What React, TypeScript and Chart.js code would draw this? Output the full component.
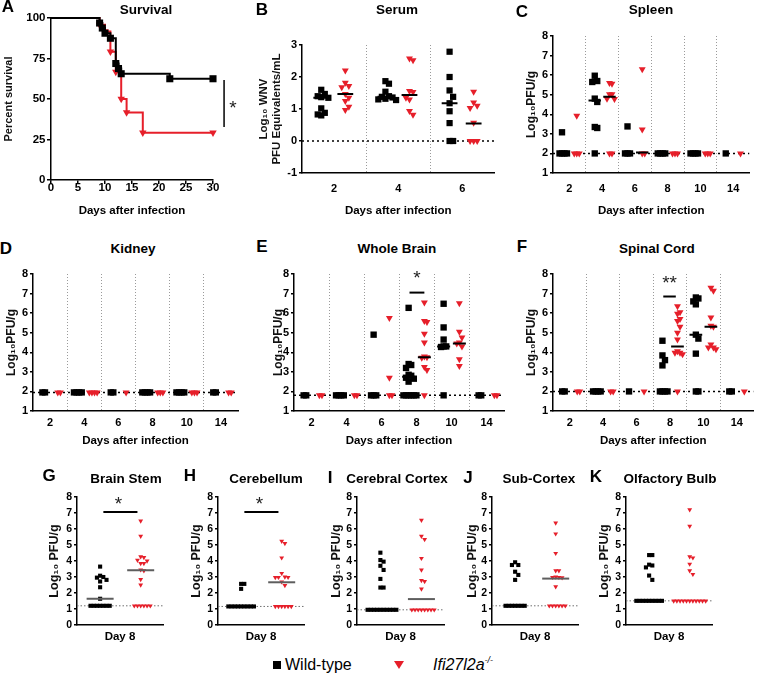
import React, { useEffect, useRef } from 'react';
import { Chart, registerables } from 'chart.js';

Chart.register(...registerables);

const FONT = '"Liberation Sans", Arial, Helvetica, sans-serif';
const RED = '#e61f2a';
const INK = '#000000';

// ================= DATA =================
// A – survival (Kaplan–Meier)
const survDaysWT = [0, 9, 9.5, 10, 11, 12, 12.5, 13, 22, 30];
const survPctWT = [100, 96.9, 93.8, 90.6, 87.5, 71.9, 68.8, 65.6, 62.5, 62.5];
const survDaysKO = [0, 9, 10, 11, 12, 13, 14, 17, 30];
const survPctKO = [100, 95.8, 91.7, 79.2, 66.7, 50, 41.7, 29.2, 29.2];
const survXTicks = [0, 5, 10, 15, 20, 25, 30];
const survYTicks = [0, 25, 50, 75, 100];

const dayLabels = ['2', '4', '6', '8', '10', '14'];
const serumDayLabels = ['2', '4', '6'];
const serumYTicks = [-1, 0, 1, 2, 3];
const logTicks = [1, 2, 3, 4, 5, 6, 7, 8];
const day8Ticks = [0, 1, 2, 3, 4, 5, 6, 7, 8];

// B – serum
const serumWT = [
  [1.6, 1.47, 1.4, 1.37, 1.35, 1.02, 0.88, 0.83, 0.8],
  [1.87, 1.79, 1.54, 1.4, 1.38, 1.36, 1.32, 1.3, 1.28],
  [2.79, 2.0, 1.58, 1.38, 1.18, 0.93, 0.56, 0, 0],
];
const serumKO = [
  [2.2, 1.82, 1.72, 1.68, 1.47, 1.35, 1.25, 1.07, 0.97],
  [2.58, 2.52, 1.56, 1.53, 1.35, 1.3, 0.94, 0.82],
  [1.54, 1.2, 1.1, 1.03, 0.57, 0, 0, 0],
];
const serumMedWT = [1.35, 1.38, 1.18];
const serumMedKO = [1.47, 1.44, 0.55];
const serumLimit = 0;

// C – spleen
const spleenWT = [
  [3.08, 2, 2, 2, 2],
  [5.97, 5.7, 5.65, 4.8, 4.63, 3.35, 3.3, 2],
  [3.38, 2, 2, 2],
  [2, 2, 2, 2],
  [2, 2, 2, 2],
  [2],
];
const spleenKO = [
  [3.92, 2, 2, 2],
  [5.6, 5.56, 5.02, 5.02, 4.8, 4.78, 2, 2],
  [6.3, 3.22, 2, 2],
  [2, 2, 2],
  [2, 2, 2],
  [2],
];
const spleenMedWT = [2, 4.7, 2, 2, 2, 2];
const spleenMedKO = [2, 4.9, 2.05, 2, 2, 2];
const spleenLimit = 2;

// D – kidney
const kidneyWT = [
  [1.95, 1.95],
  [1.95, 1.95, 1.95, 1.95],
  [1.95, 1.95],
  [1.95, 1.95, 1.95, 1.95],
  [1.95, 1.95, 1.95, 1.95],
  [1.95, 1.95],
];
const kidneyKO = [
  [1.95, 1.95],
  [1.95, 1.95, 1.95, 1.95],
  [1.95],
  [1.95, 1.95, 1.95],
  [1.95, 1.95, 1.95],
  [1.95, 1.95],
];
const kidneyMedWT = [1.95, 1.95, 1.95, 1.95, 1.95, 1.95];
const kidneyMedKO = [1.95, 1.95, 1.95, 1.95, 1.95, 1.95];
const kidneyLimit = 1.95;

// E – whole brain
const brainWT = [
  [1.8, 1.8],
  [1.8, 1.8, 1.8, 1.8],
  [4.9, 1.8, 1.8, 1.8],
  [6.27, 3.4, 3.35, 3.2, 2.85, 2.8, 2.7, 2.65, 2.5, 1.8, 1.8, 1.8, 1.8, 1.8, 1.8],
  [6.48, 5.27, 4.65, 4.3, 4.3, 4.27, 1.8],
  [1.8, 1.8],
];
const brainKO = [
  [1.8, 1.8],
  [1.8, 1.8],
  [5.75, 2.7, 1.8, 1.8],
  [6.55, 5.6, 5.55, 4.95, 4.5, 3.78, 3.75, 3.72, 3.25, 3.1, 1.8],
  [6.5, 5.05, 4.75, 4.5, 4.45, 4.3, 3.65, 3.3],
  [1.8, 1.8],
];
const brainMedWT = [1.8, 1.8, 1.8, 2.75, 4.3, 1.8];
const brainMedKO = [1.8, 1.8, 1.8, 3.75, 4.45, 1.8];
const brainLimit = 1.8;

// F – spinal cord
const spinalWT = [
  [2, 2],
  [2, 2, 2, 2],
  [2],
  [4.59, 3.84, 3.6, 3.33, 2, 2, 2, 2],
  [6.8, 6.75, 6.6, 6.45, 4.9, 4.7, 3.93, 2, 2],
  [2, 2],
];
const spinalKO = [
  [2, 2],
  [2, 2],
  [2],
  [6.35, 6.05, 5.97, 5.7, 5.6, 5.3, 5.0, 4.65, 4.05, 3.98, 3.98, 3.9, 2],
  [7.3, 7.14, 5.78, 5.35, 5.3, 4.4, 4.25, 4.25, 4.15],
  [2],
];
const spinalMedWT = [2, 2, 2, 2, 4.9, 2];
const spinalMedKO = [2, 2, 2, 4.3, 5.3, 2];
const spinalLimit = 2;

// G–K – day 8 brain regions
const stemWT = [3.65, 3.08, 3.0, 2.96, 2.82, 2.72, 2.36, 1.64, 1.2, 1.2, 1.2, 1.2, 1.2, 1.2, 1.2];
const stemKO = [6.5, 5.55, 4.27, 4.22, 4.05, 4.0, 3.85, 3.85, 3.45, 3.4, 2.85, 2.5, 1.2, 1.2, 1.2, 1.2, 1.2, 1.2];
const stemMed = [1.64, 3.42];
const stemLimit = 1.2;

const cerebWT = [2.57, 2.57, 2.26, 1.16, 1.16, 1.16, 1.16, 1.16, 1.16, 1.16, 1.16, 1.16];
const cerebKO = [5.24, 5.1, 4.2, 3.23, 3.0, 2.98, 2.98, 2.97, 2.7, 2.47, 1.16, 1.16, 1.16, 1.16, 1.16, 1.16];
const cerebMed = [1.16, 2.67];
const cerebLimit = 1.16;

const cortexWT = [4.52, 4.06, 3.96, 3.7, 3.44, 2.88, 2.34, 2.34, 0.95, 0.95, 0.95, 0.95, 0.95, 0.95, 0.95, 0.95, 0.95, 0.95];
const cortexKO = [6.55, 5.55, 5.35, 4.17, 3.44, 2.78, 2.72, 2.26, 0.95, 0.95, 0.95, 0.95, 0.95, 0.95, 0.95, 0.95];
const cortexMed = [0.95, 1.62];
const cortexLimit = 0.95;

const subWT = [3.92, 3.75, 3.75, 3.33, 3.13, 2.82, 1.2, 1.2, 1.2, 1.2, 1.2, 1.2, 1.2];
const subKO = [6.38, 5.7, 4.48, 3.4, 3.4, 3.0, 2.98, 2.98, 2.96, 2.4, 1.2, 1.2, 1.2, 1.2, 1.2, 1.2];
const subMed = [1.2, 2.9];
const subLimit = 1.2;

const olfWT = [4.37, 4.37, 3.77, 3.72, 3.6, 3.09, 2.82, 1.51, 1.51, 1.51, 1.51, 1.51, 1.51, 1.51, 1.51, 1.51];
const olfKO = [7.21, 6.18, 4.27, 4.2, 3.81, 3.4, 3.17, 1.51, 1.51, 1.51, 1.51, 1.51, 1.51, 1.51, 1.51, 1.51, 1.51, 1.51];
const olfMed = [1.51, 1.51];
const olfLimit = 1.51;

// ================= HELPERS =================
type Box = { x: number; y: number; w: number; h: number };
type Plot = { l: number; t: number; r: number; b: number };
type Annot =
  | { kind: 'line'; x1: number; y1: number; x2: number; y2: number; width: number }
  | { kind: 'text'; x: number; y: number; text: string; size: number };

function annotPlugin(items: Annot[]) {
  return {
    id: 'annot',
    afterDatasetsDraw(chart: any) {
      const ctx = chart.ctx;
      const xs = chart.scales.x;
      const ys = chart.scales.y;
      ctx.save();
      ctx.strokeStyle = '#000';
      ctx.fillStyle = '#222';
      for (const a of items) {
        if (a.kind === 'line') {
          ctx.lineWidth = a.width;
          ctx.beginPath();
          ctx.moveTo(xs.getPixelForValue(a.x1), ys.getPixelForValue(a.y1));
          ctx.lineTo(xs.getPixelForValue(a.x2), ys.getPixelForValue(a.y2));
          ctx.stroke();
        } else {
          ctx.font = `${a.size}px ${FONT}`;
          ctx.textAlign = 'center';
          ctx.textBaseline = 'middle';
          ctx.fillText(a.text, xs.getPixelForValue(a.x), ys.getPixelForValue(a.y) + a.size * 0.22);
        }
      }
      ctx.restore();
    },
  };
}

// simple deterministic beeswarm: spreads overlapping points sideways
function swarm(vals: number[], cx: number, pxX: number, pxY: number, step: number, symH: number) {
  const idx = vals.map((_, i) => i).sort((a, b) => vals[b] - vals[a]);
  const placed: { dx: number; py: number }[] = [];
  const out: { x: number; y: number }[] = new Array(vals.length);
  for (const i of idx) {
    const py = vals[i] * pxY;
    let dx = 0;
    for (let n = 0; n < 80; n++) {
      const k = Math.ceil(n / 2);
      const cand = n === 0 ? 0 : (n % 2 === 1 ? k : -k) * step;
      const clash = placed.some((p) => Math.abs(p.py - py) < symH && Math.abs(p.dx - cand) < step * 0.99);
      if (!clash) {
        dx = cand;
        break;
      }
    }
    placed.push({ dx, py });
    out[i] = { x: cx + dx / pxX, y: vals[i] };
  }
  return out;
}

const boldFont = (size: number, lineHeight = 1) => ({ family: FONT, size, weight: 'bold' as const, lineHeight });

function baseOptions(canvas: Box, plot: Plot) {
  return {
    responsive: false,
    maintainAspectRatio: false,
    animation: false as const,
    devicePixelRatio: 1,
    events: [] as any[],
    layout: {
      padding: {
        top: plot.t - canvas.y,
        right: canvas.x + canvas.w - plot.r,
        left: 0,
        bottom: 0,
      },
    },
    plugins: { legend: { display: false }, tooltip: { enabled: false }, title: { display: false } },
  };
}

function yScaleOpts(o: {
  min: number; max: number; ticks: number[]; width: number; title: string | string[];
  titleSize: number; tickSize: number; tickLen: number; pad: number;
}) {
  return {
    type: 'linear' as const,
    min: o.min,
    max: o.max,
    afterBuildTicks: (ax: any) => {
      ax.ticks = o.ticks.map((v) => ({ value: v }));
    },
    afterFit: (ax: any) => {
      ax.width = o.width;
    },
    ticks: {
      autoSkip: false,
      color: INK,
      padding: o.pad,
      font: boldFont(o.tickSize),
      callback: (v: any) => String(v),
    },
    grid: { display: true, drawOnChartArea: false, drawTicks: true, tickLength: o.tickLen, color: '#000', lineWidth: 1.5 },
    border: { display: true, color: '#000', width: 1.5 },
    title: { display: true, text: o.title, color: '#111', padding: 0, font: boldFont(o.titleSize, 1.15) },
  };
}

type GroupSpec = {
  canvas: Box;
  plot: Plot;
  xMin: number;
  xMax: number;
  wtX: number[];
  koX: number[];
  xTickVals: number[];
  xTickLabel: (v: number) => string;
  dividers: number[];
  xLabelPad: number;
  xTitle: string;
  wt: number[][];
  ko: number[][];
  medWT: number[];
  medKO: number[];
  limit: number;
  yMin: number;
  yMax: number;
  yTicks: number[];
  yTitle: string | string[];
  yTitleSize: number;
  yTickSize: number;
  yTickLen: number;
  medHalf: number;
  medColor: string;
  rWT: number;
  rKO: number;
  step: number;
  symH: number;
  limitColor: string;
  limitWidth: number;
  limitDash: number[];
  annots: Annot[];
};

function buildGroupChart(el: HTMLCanvasElement, s: GroupSpec) {
  const pxX = (s.plot.r - s.plot.l) / (s.xMax - s.xMin);
  const pxY = (s.plot.b - s.plot.t) / (s.yMax - s.yMin);
  const wtPts: any[] = [];
  const koPts: any[] = [];
  const medPts: any[] = [];
  s.wt.forEach((vals, g) => wtPts.push(...swarm(vals, s.wtX[g], pxX, pxY, s.step, s.symH)));
  s.ko.forEach((vals, g) => koPts.push(...swarm(vals, s.koX[g], pxX, pxY, s.step, s.symH)));
  const hw = s.medHalf / pxX;
  const addMed = (m: number, c: number) => {
    if (m > s.limit + 0.01) medPts.push({ x: c - hw, y: m }, { x: c + hw, y: m }, { x: c + hw, y: null });
  };
  s.medWT.forEach((m, g) => addMed(m, s.wtX[g]));
  s.medKO.forEach((m, g) => addMed(m, s.koX[g]));

  const opts: any = baseOptions(s.canvas, s.plot);
  opts.scales = {
    x: {
      type: 'linear',
      min: s.xMin,
      max: s.xMax,
      afterBuildTicks: (ax: any) => {
        ax.ticks = s.xTickVals.map((v) => ({ value: v }));
      },
      afterFit: (ax: any) => {
        ax.height = s.canvas.y + s.canvas.h - s.plot.b;
      },
      ticks: {
        autoSkip: false,
        maxRotation: 0,
        minRotation: 0,
        padding: s.xLabelPad,
        color: INK,
        font: boldFont(11),
        callback: (v: any) => s.xTickLabel(Number(v)),
      },
      grid: {
        display: true,
        drawOnChartArea: true,
        drawTicks: false,
        lineWidth: 1,
        color: (c: any) => (c.tick && s.dividers.includes(c.tick.value) ? '#9a9a9a' : 'rgba(0,0,0,0)'),
      },
      border: { display: true, color: '#000', width: 1.5, dash: [1, 2] },
      title: { display: true, text: s.xTitle, color: INK, padding: 0, font: boldFont(11.5, 1.2) },
    },
    y: yScaleOpts({
      min: s.yMin,
      max: s.yMax,
      ticks: s.yTicks,
      width: s.plot.l - s.canvas.x,
      title: s.yTitle,
      titleSize: s.yTitleSize,
      tickSize: s.yTickSize,
      tickLen: s.yTickLen,
      pad: 2,
    }),
  };

  return new Chart(el, {
    type: 'scatter',
    data: {
      datasets: [
        { data: medPts, showLine: true, borderColor: s.medColor, borderWidth: 2, pointRadius: 0, spanGaps: false, clip: false } as any,
        {
          data: wtPts,
          pointStyle: 'rect',
          pointRadius: s.rWT,
          backgroundColor: '#000',
          pointBackgroundColor: '#000',
          pointBorderWidth: 0,
          clip: false,
        },
        {
          data: koPts,
          pointStyle: 'triangle',
          pointRotation: 180,
          pointRadius: s.rKO,
          backgroundColor: RED,
          pointBackgroundColor: RED,
          pointBorderWidth: 0,
          clip: false,
        },
        {
          data: [
            { x: s.xMin, y: s.limit },
            { x: s.xMax, y: s.limit },
          ],
          showLine: true,
          borderColor: s.limitColor,
          borderWidth: s.limitWidth,
          borderDash: s.limitDash,
          pointRadius: 0,
        },
      ],
    } as any,
    options: opts,
    plugins: [annotPlugin(s.annots) as any],
  });
}

function buildSurvivalChart(el: HTMLCanvasElement) {
  const canvas = boxes.A;
  const plot = plots.A;
  const opts: any = baseOptions(canvas, plot);
  opts.scales = {
    x: {
      type: 'linear',
      min: 0,
      max: 30,
      afterBuildTicks: (ax: any) => {
        ax.ticks = survXTicks.map((v) => ({ value: v }));
      },
      afterFit: (ax: any) => {
        ax.height = canvas.y + canvas.h - plot.b;
      },
      ticks: { autoSkip: false, maxRotation: 0, padding: -1.5, color: INK, font: boldFont(11.5) },
      grid: { display: true, drawOnChartArea: false, drawTicks: true, tickLength: 4, color: '#000', lineWidth: 1.5 },
      border: { display: true, color: '#000', width: 1.5 },
      title: { display: true, text: 'Days after infection', color: INK, padding: 0, font: boldFont(11.5, 1.2) },
    },
    y: yScaleOpts({
      min: 0,
      max: 100,
      ticks: survYTicks,
      width: plot.l - canvas.x,
      title: 'Percent survival',
      titleSize: 11,
      tickSize: 11.5,
      tickLen: 4,
      pad: 1.5,
    }),
  };
  const hidden0 = (c: any) => (c.dataIndex === 0 ? 0 : undefined);
  return new Chart(el, {
    type: 'scatter',
    data: {
      datasets: [
        {
          data: survDaysWT.map((d, i) => ({ x: d, y: survPctWT[i] })),
          showLine: true,
          stepped: true,
          borderColor: '#000',
          borderWidth: 2,
          pointStyle: 'rect',
          pointRadius: (c: any) => hidden0(c) ?? 5,
          backgroundColor: '#000',
          pointBackgroundColor: '#000',
          pointBorderWidth: 0,
          clip: false,
        },
        {
          data: survDaysKO.map((d, i) => ({ x: d, y: survPctKO[i] })),
          showLine: true,
          stepped: true,
          borderColor: RED,
          borderWidth: 2,
          pointStyle: 'triangle',
          pointRotation: 180,
          pointRadius: (c: any) => hidden0(c) ?? 4.3,
          backgroundColor: RED,
          pointBackgroundColor: RED,
          pointBorderWidth: 0,
          clip: false,
        },
      ],
    } as any,
    options: opts,
    plugins: [
      annotPlugin([
        { kind: 'line', x1: 32.05, y1: 61.7, x2: 32.05, y2: 32.7, width: 1.5 },
        { kind: 'text', x: 33.7, y: 46.3, text: '*', size: 19 },
      ]) as any,
    ],
  });
}

// ================= LAYOUT =================
const boxes: Record<string, Box> = {
  A: { x: 3, y: 0, w: 247, h: 218 },
  B: { x: 257, y: 30, w: 248, h: 188 },
  C: { x: 525, y: 25, w: 235, h: 193 },
  D: { x: 5, y: 260, w: 245, h: 188 },
  E: { x: 272, y: 260, w: 243, h: 188 },
  F: { x: 525, y: 260, w: 235, h: 188 },
  G: { x: 47, y: 485, w: 128, h: 159 },
  H: { x: 189, y: 485, w: 127, h: 159 },
  I: { x: 329, y: 485, w: 127, h: 159 },
  J: { x: 465, y: 485, w: 125, h: 159 },
  K: { x: 597, y: 485, w: 127, h: 159 },
};
const plots: Record<string, Plot> = {
  A: { l: 51, t: 18, r: 213, b: 180 },
  B: { l: 302, t: 45, r: 497, b: 173 },
  C: { l: 553, t: 36, r: 758, b: 173 },
  D: { l: 33, t: 274, r: 238, b: 411 },
  E: { l: 294, t: 274, r: 504, b: 411 },
  F: { l: 553, t: 274, r: 758, b: 411 },
  G: { l: 77, t: 497, r: 163, b: 625 },
  H: { l: 218, t: 497, r: 304, b: 625 },
  I: { l: 357, t: 497, r: 444, b: 625 },
  J: { l: 492, t: 497, r: 578, b: 625 },
  K: { l: 626, t: 497, r: 712, b: 625 },
};

function dayPanel(
  key: string,
  labels: string[],
  wt: number[][],
  ko: number[][],
  medWT: number[],
  medKO: number[],
  limit: number,
  yMin: number,
  yMax: number,
  yTicks: number[],
  yTitle: string | string[],
  extra: Partial<GroupSpec>
): GroupSpec {
  const n = labels.length;
  const all = Array.from({ length: 2 * n + 1 }, (_, i) => i);
  const row1 = plots[key].t < 100;
  return {
    canvas: boxes[key],
    plot: plots[key],
    xMin: 0,
    xMax: 2 * n,
    wtX: labels.map((_, g) => 2 * g + 0.55),
    koX: labels.map((_, g) => 2 * g + 1.45),
    xTickVals: all,
    xTickLabel: (v) => (v % 2 === 1 ? labels[(v - 1) / 2] : ''),
    dividers: all.filter((v) => v % 2 === 0 && v > 0 && v < 2 * n),
    xLabelPad: row1 ? 10.5 : 6.5,
    xTitle: 'Days after infection',
    wt,
    ko,
    medWT,
    medKO,
    limit,
    yMin,
    yMax,
    yTicks,
    yTitle,
    yTitleSize: 12,
    yTickSize: 11,
    yTickLen: 3,
    medHalf: 6.5,
    medColor: '#000',
    rWT: 4.5,
    rKO: 4,
    step: 2.6,
    symH: 6.5,
    limitColor: '#000',
    limitWidth: 1.5,
    limitDash: [2, 3],
    annots: [],
    ...extra,
  };
}

function day8Panel(key: string, wt: number[], ko: number[], med: number[], limit: number, sig: boolean): GroupSpec {
  return {
    canvas: boxes[key],
    plot: plots[key],
    xMin: 0.43,
    xMax: 2.55,
    wtX: [1],
    koX: [2],
    xTickVals: [1.5],
    xTickLabel: () => '',
    dividers: [],
    xLabelPad: 0,
    xTitle: 'Day 8',
    wt: [wt],
    ko: [ko],
    medWT: [med[0]],
    medKO: [med[1]],
    limit,
    yMin: 0,
    yMax: 8,
    yTicks: day8Ticks,
    yTitle: 'Log\u2081\u2080 PFU/g',
    yTitleSize: 12.5,
    yTickSize: 10.5,
    yTickLen: 3,
    medHalf: 13.5,
    medColor: '#5e5e5e',
    rWT: 2.9,
    rKO: 2.8,
    step: 3.2,
    symH: 4.5,
    limitColor: '#707070',
    limitWidth: 1,
    limitDash: [1.5, 2],
    annots: sig
      ? [
          { kind: 'line', x1: 1.08, y1: 7.07, x2: 1.92, y2: 7.07, width: 2 },
          { kind: 'text', x: 1.45, y: 7.8, text: '*', size: 19 },
        ]
      : [],
  };
}

const LOG_TITLE = 'Log\u2081\u2080PFU/g';

const groupSpecs: Record<string, GroupSpec> = {
  B: dayPanel('B', serumDayLabels, serumWT, serumKO, serumMedWT, serumMedKO, serumLimit, -1, 3, serumYTicks,
    ['Log\u2081\u2080 WNV', 'PFU Equivalents/mL'], {
      wtX: [0.6, 2.6, 4.6],
      koX: [1.35, 3.35, 5.35],
      medHalf: 8,
      yTitleSize: 11.5,
      rWT: 4.4,
      step: 3.6,
      symH: 7,
    }),
  C: dayPanel('C', dayLabels, spleenWT, spleenKO, spleenMedWT, spleenMedKO, spleenLimit, 1, 8, logTicks, LOG_TITLE, {}),
  D: dayPanel('D', dayLabels, kidneyWT, kidneyKO, kidneyMedWT, kidneyMedKO, kidneyLimit, 1, 8, logTicks, LOG_TITLE, {}),
  E: dayPanel('E', dayLabels, brainWT, brainKO, brainMedWT, brainMedKO, brainLimit, 1, 8, logTicks, LOG_TITLE, {
    annots: [
      { kind: 'line', x1: 6.6, y1: 7.05, x2: 7.45, y2: 7.05, width: 2 },
      { kind: 'text', x: 7.03, y: 7.95, text: '*', size: 19 },
    ],
  }),
  F: dayPanel('F', dayLabels, spinalWT, spinalKO, spinalMedWT, spinalMedKO, spinalLimit, 1, 8, logTicks, LOG_TITLE, {
    annots: [
      { kind: 'line', x1: 6.6, y1: 6.85, x2: 7.35, y2: 6.85, width: 2 },
      { kind: 'text', x: 6.98, y: 7.72, text: '**', size: 19 },
    ],
  }),
  G: day8Panel('G', stemWT, stemKO, stemMed, stemLimit, true),
  H: day8Panel('H', cerebWT, cerebKO, cerebMed, cerebLimit, true),
  I: day8Panel('I', cortexWT, cortexKO, cortexMed, cortexLimit, false),
  J: day8Panel('J', subWT, subKO, subMed, subLimit, false),
  K: day8Panel('K', olfWT, olfKO, olfMed, olfLimit, false),
};

const panelTitles = [
  { text: 'Survival', x: 146, y: 10 },
  { text: 'Serum', x: 397, y: 10 },
  { text: 'Spleen', x: 651, y: 10 },
  { text: 'Kidney', x: 133, y: 249 },
  { text: 'Whole Brain', x: 397, y: 249 },
  { text: 'Spinal Cord', x: 657, y: 249 },
  { text: 'Brain Stem', x: 126, y: 479 },
  { text: 'Cerebellum', x: 266, y: 479 },
  { text: 'Cerebral Cortex', x: 397, y: 479 },
  { text: 'Sub-Cortex', x: 539, y: 479 },
  { text: 'Olfactory Bulb', x: 670, y: 479 },
];
const panelLetters = [
  { text: 'A', x: 8, y: 6 },
  { text: 'B', x: 262, y: 9 },
  { text: 'C', x: 522, y: 11 },
  { text: 'D', x: 6, y: 248 },
  { text: 'E', x: 262, y: 246 },
  { text: 'F', x: 522, y: 246 },
  { text: 'G', x: 49, y: 475 },
  { text: 'H', x: 190, y: 475 },
  { text: 'I', x: 330, y: 477 },
  { text: 'J', x: 468, y: 477 },
  { text: 'K', x: 596, y: 476 },
];

// ================= COMPONENTS =================
function ChartCanvas({ box, make }: { box: Box; make: (el: HTMLCanvasElement) => Chart }) {
  const ref = useRef<HTMLCanvasElement>(null);
  useEffect(() => {
    const chart = make(ref.current as HTMLCanvasElement);
    return () => chart.destroy();
  }, []);
  return (
    <canvas
      ref={ref}
      width={box.w}
      height={box.h}
      style={{ position: 'absolute', left: box.x, top: box.y, width: box.w, height: box.h }}
    />
  );
}

const centered = (x: number, y: number): React.CSSProperties => ({
  position: 'absolute',
  left: x,
  top: y,
  transform: 'translate(-50%, -50%)',
  whiteSpace: 'nowrap',
  lineHeight: 1,
  fontFamily: FONT,
  color: '#000',
});

export default function App() {
  return (
    <div style={{ position: 'absolute', left: 0, top: 0, width: 760, height: 676, background: '#fff', overflow: 'hidden' }}>
      <ChartCanvas box={boxes.A} make={buildSurvivalChart} />
      {Object.keys(groupSpecs).map((k) => (
        <ChartCanvas key={k} box={boxes[k]} make={(el) => buildGroupChart(el, groupSpecs[k])} />
      ))}
      {panelTitles.map((t) => (
        <div key={t.text} style={{ ...centered(t.x, t.y), fontSize: 13.5, fontWeight: 'bold' }}>
          {t.text}
        </div>
      ))}
      {panelLetters.map((t) => (
        <div key={t.text} style={{ ...centered(t.x, t.y), fontSize: 17, fontWeight: 'bold' }}>
          {t.text}
        </div>
      ))}
      {/* legend */}
      <div style={{ position: 'absolute', left: 273, top: 661, width: 8, height: 8, background: '#000' }} />
      <div style={{ ...centered(285, 665), transform: 'translate(0, -50%)', fontSize: 16 }}>Wild-type</div>
      <svg style={{ position: 'absolute', left: 394, top: 661 }} width={10} height={8}>
        <polygon points="0,0 10,0 5,8" fill={RED} />
      </svg>
      <div style={{ ...centered(433, 665), transform: 'translate(0, -50%)', fontSize: 16, fontStyle: 'italic' }}>
        Ifi27l2a<sup style={{ fontSize: 9, verticalAlign: 'top', position: 'relative', top: -1 }}>-/-</sup>
      </div>
    </div>
  );
}
